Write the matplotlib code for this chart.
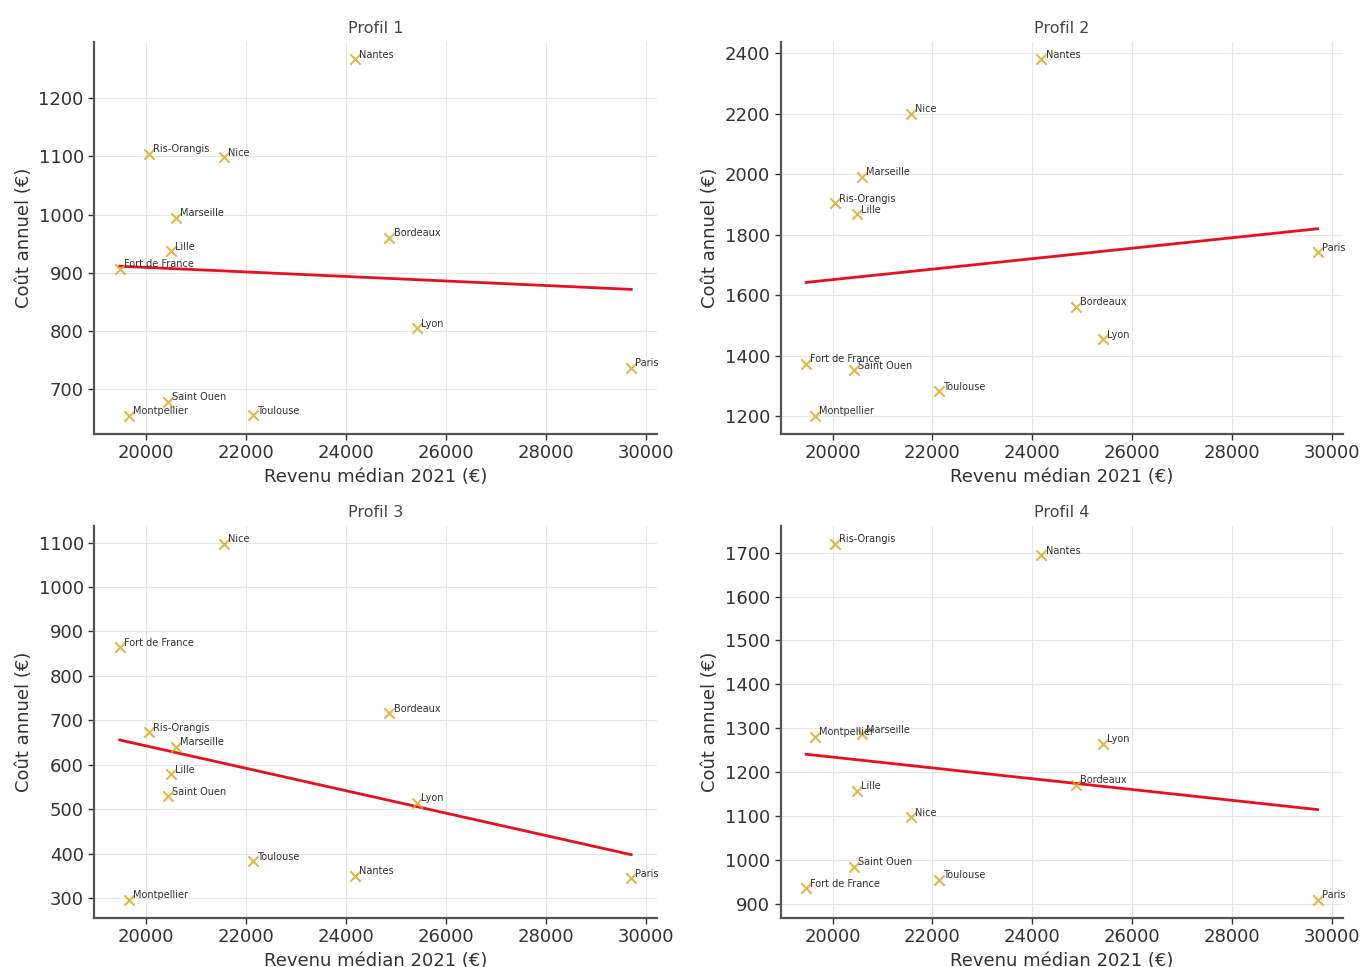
import numpy as np
import matplotlib
matplotlib.use("Agg")
import matplotlib.pyplot as plt

# Villes et revenu médian 2021 (€)
villes = ["Fort de France", "Montpellier", "Ris-Orangis", "Saint Ouen", "Lille",
          "Marseille", "Nice", "Toulouse", "Nantes", "Bordeaux", "Lyon", "Paris"]
revenu = [19470, 19650, 20050, 20430, 20490, 20590, 21560, 22130, 24180, 24870, 25420, 29710]

# Coût annuel (€) par profil
profil_1 = [907, 654, 1105, 678, 937, 995, 1099, 655, 1267, 960, 805, 737]
profil_2 = [1374, 1202, 1904, 1352, 1869, 1992, 2200, 1283, 2380, 1563, 1456, 1743]
profil_3 = [864, 296, 673, 530, 579, 641, 1098, 383, 350, 716, 515, 345]
profil_4 = [936, 1281, 1721, 985, 1158, 1286, 1098, 955, 1695, 1171, 1265, 909]

profils = [("Profil 1", profil_1), ("Profil 2", profil_2),
           ("Profil 3", profil_3), ("Profil 4", profil_4)]

plt.rcParams["font.family"] = ["DejaVu Sans"]

fig, axes = plt.subplots(2, 2, figsize=(13.65, 9.67), dpi=100)
fig.subplots_adjust(left=0.069, right=0.984, top=0.957, bottom=0.051,
                    wspace=0.22, hspace=0.235)

x = np.array(revenu, dtype=float)
for ax, (titre, couts) in zip(axes.flat, profils):
    y = np.array(couts, dtype=float)
    ax.scatter(x, y, marker="x", s=55, color="#DAA520", alpha=0.8,
               linewidths=1.5, zorder=3)
    for v, xi, yi in zip(villes, x, y):
        ax.annotate(v, (xi, yi), xytext=(3, 1), textcoords="offset points",
                    fontsize=7, color="#333333", zorder=4)
    # droite de tendance (moindres carrés)
    a, b = np.polyfit(x, y, 1)
    xs = np.array([x.min(), x.max()])
    ax.plot(xs, a * xs + b, color="#e8101e", linewidth=2, zorder=2)

    ax.set_title(titre, fontsize=11.5, color="#444444")
    ax.set_xlabel("Revenu médian 2021 (€)", fontsize=13, color="#333333")
    ax.set_ylabel("Coût annuel (€)", fontsize=13, color="#333333")
    ax.set_xticks([20000, 22000, 24000, 26000, 28000, 30000])
    ax.tick_params(labelsize=13, colors="#333333", length=4, width=1,
                   direction="out")
    ax.grid(True, color="#e6e6e6", linewidth=0.8)
    ax.set_axisbelow(True)
    for s in ("top", "right"):
        ax.spines[s].set_visible(False)
    for s in ("left", "bottom"):
        ax.spines[s].set_color("#555555")
        ax.spines[s].set_linewidth(1.6)

fig.savefig("out.png", dpi=100, facecolor="white")
